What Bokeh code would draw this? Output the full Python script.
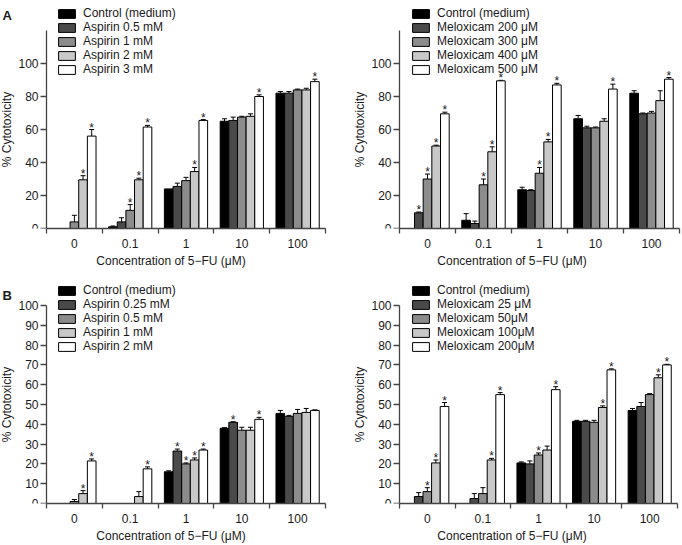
import numpy as np
from bokeh.plotting import figure
from bokeh.models import (ColumnDataSource, FixedTicker, Legend, LegendItem,
                          Whisker, TeeHead, Label, Range1d)
from bokeh.core.properties import value
from bokeh.layouts import gridplot
from bokeh.embed import file_html
from bokeh.resources import INLINE

# 5-FU concentrations (uM) on the x axis
doses = ["0", "0.1", "1", "10", "100"]

# ---- A, left: aspirin 0.5-3 mM ----
a1_labels = ["Control (medium)", "Aspirin 0.5 mM", "Aspirin 1 mM", "Aspirin 2 mM", "Aspirin 3 mM"]
a1_ctrl = [0, 1, 24, 65, 82]
a1_ctrl_err = [0, 0.5, 0, 1.5, 1]
a1_asp05 = [0, 4, 25.5, 65.5, 82]
a1_asp05_err = [0, 2.5, 2, 2, 1]
a1_asp1 = [4, 11, 29, 67.5, 84]
a1_asp1_err = [4, 3.5, 2, 0.5, 0.5]
a1_asp2 = [29.5, 29.5, 34.5, 68, 84]
a1_asp2_err = [2.5, 1, 2.5, 1.5, 1]
a1_asp3 = [56, 61.5, 65.5, 80, 89]
a1_asp3_err = [4, 1, 0.5, 1, 1.5]
a1_sig = [[0, 0, 0, 0, 0], [0, 0, 0, 0, 0], [0, 1, 0, 0, 0], [1, 1, 1, 0, 0], [1, 1, 1, 1, 1]]

# ---- A, right: meloxicam 200-500 uM ----
a2_labels = ["Control (medium)", "Meloxicam 200 μM", "Meloxicam 300 μM", "Meloxicam 400 μM", "Meloxicam 500 μM"]
a2_ctrl = [0, 5, 23.5, 66.5, 82]
a2_ctrl_err = [0, 4, 1.5, 2, 1.5]
a2_mel200 = [9.5, 3, 23, 61, 69.5]
a2_mel200_err = [0.5, 1.5, 0.5, 1, 0.5]
a2_mel300 = [30, 26.5, 33.5, 61, 70]
a2_mel300_err = [3, 3.5, 3.5, 0.5, 1]
a2_mel400 = [50, 46.5, 52.5, 65, 77.5]
a2_mel400_err = [0.5, 3, 1.5, 1.5, 6]
a2_mel500 = [69.5, 89.5, 87, 84.5, 90.5]
a2_mel500_err = [1, 0.3, 1, 3, 1]
a2_sig = [[0, 0, 0, 0, 0], [1, 0, 0, 0, 0], [1, 1, 1, 0, 0], [1, 1, 1, 0, 0], [1, 1, 1, 1, 1]]

# ---- B, left: aspirin 0.25-2 mM ----
b1_labels = ["Control (medium)", "Aspirin 0.25 mM", "Aspirin 0.5 mM", "Aspirin 1 mM", "Aspirin 2 mM"]
b1_ctrl = [0, 0, 16, 38, 45.5]
b1_ctrl_err = [0, 0, 0.5, 0.3, 1.5]
b1_asp025 = [0, 0, 26.5, 41, 44]
b1_asp025_err = [0, 0, 1, 0.3, 0.5]
b1_asp05 = [1, 0, 20, 37, 45.5]
b1_asp05_err = [1, 0, 0.5, 1.5, 2]
b1_asp1 = [5, 3.5, 22, 37, 46]
b1_asp1_err = [1.5, 2.5, 1, 1.5, 2]
b1_asp2 = [21.5, 17.5, 27, 42.5, 47]
b1_asp2_err = [1, 1, 0.5, 1, 0.3]
b1_sig = [[0, 0, 0, 0, 0], [0, 0, 1, 1, 0], [0, 0, 1, 0, 0], [1, 0, 1, 0, 0], [1, 1, 1, 1, 0]]

# ---- B, right: meloxicam 25-200 uM ----
b2_labels = ["Control (medium)", "Meloxicam 25 μM", "Meloxicam 50μM", "Meloxicam 100μM", "Meloxicam 200μM"]
b2_ctrl = [0, 0, 20.5, 41.5, 47]
b2_ctrl_err = [0, 0, 0.5, 0.5, 1]
b2_mel25 = [3.5, 2.5, 20, 41.5, 49]
b2_mel25_err = [2, 2.5, 1.5, 0.5, 2]
b2_mel50 = [6, 5, 24.5, 41, 55]
b2_mel50_err = [2, 3, 1, 1, 0.5]
b2_mel100 = [20.5, 22, 27, 48.5, 63.5]
b2_mel100_err = [1.5, 0.8, 2, 0.8, 1.5]
b2_mel200 = [49, 55, 57.5, 67.5, 70]
b2_mel200_err = [2, 1, 1.5, 0.5, 0.3]
b2_sig = [[0, 0, 0, 0, 0], [0, 0, 0, 0, 0], [1, 0, 1, 0, 0], [1, 1, 0, 1, 1], [1, 1, 1, 1, 1]]

FILLS = ["#000000", "#4a4a4a", "#8c8c8c", "#c8c8c8", "#ffffff"]
FONT = "Liberation Sans"
TEXT = "#1a1a1a"
AXIS = "#444444"
BAR_W = 0.155
W = 341
AXIS_H = 42  # room under each plot for dose labels and the x title


def panel(labels, means, errs, sig, y_top, y_ticks, height, px_per_unit,
          ax_left, ax_right, legend_loc, letter=None, letter_y=15):
    # the frame fills the whole cell; the axes are bounded to the data area
    frame_h = height - AXIS_H
    sx = (ax_right - ax_left) / 5.0
    x0 = 0.5 - ax_left / sx
    x1 = 5.5 + (W - ax_right) / sx
    p = figure(width=W, height=height, output_backend="svg", toolbar_location=None,
               x_range=Range1d(x0, x1), y_range=Range1d(0, frame_h / px_per_unit),
               min_border=0, min_border_left=0, min_border_right=0,
               min_border_top=0, min_border_bottom=AXIS_H)
    p.outline_line_color = None
    p.xgrid.grid_line_color = None
    p.ygrid.grid_line_color = None
    p.background_fill_color = "white"
    p.border_fill_color = "white"

    items = []
    for k in range(5):
        xs = [g + 1 + (k - 2) * BAR_W for g in range(5)]
        hi = [m + e for m, e in zip(means[k], errs[k])]
        src = ColumnDataSource(dict(x=xs, top=means[k], hi=hi))
        r = p.vbar(x="x", top="top", bottom=0, width=BAR_W, source=src,
                   fill_color=FILLS[k], line_color="black", line_width=1)
        items.append(LegendItem(label=labels[k], renderers=[r]))

        keep = [i for i in range(5) if errs[k][i] > 0]
        wsrc = ColumnDataSource(dict(x=[xs[i] for i in keep],
                                     lo=[means[k][i] for i in keep],
                                     hi=[hi[i] for i in keep]))
        p.add_layout(Whisker(source=wsrc, base="x", lower="lo", upper="hi",
                             dimension="height", line_color="black", line_width=1,
                             lower_head=None,
                             upper_head=TeeHead(size=5, line_color="black", line_width=1)))

        stx = [xs[i] for i in range(5) if sig[k][i]]
        sty = [hi[i] for i in range(5) if sig[k][i]]
        if stx:
            p.text(x=stx, y=sty, text=["*"] * len(stx), text_align="center",
                   text_baseline="alphabetic", y_offset=-2,
                   text_font=value(FONT), text_font_size="12px", text_color=TEXT)

    # x axis: labels under each dose group, short ticks at group boundaries
    xa = p.xaxis[0]
    xa.bounds = (0.5, 5.5)
    xa.ticker = FixedTicker(ticks=[1, 2, 3, 4, 5], minor_ticks=[0.5, 1.5, 2.5, 3.5, 4.5, 5.5])
    xa.major_label_overrides = {i + 1: d for i, d in enumerate(doses)}
    xa.major_tick_out = 0
    xa.major_tick_in = 0
    xa.minor_tick_out = 5
    xa.minor_tick_in = 0
    xa.minor_tick_line_color = AXIS
    xa.minor_tick_line_width = 1.3
    xa.major_label_standoff = 5
    xa.axis_label = "Concentration of 5\u2212FU (μM)"
    xa.axis_label_standoff = 3

    ya = p.yaxis[0]
    ya.fixed_location = 0.5
    ya.bounds = (0, y_top)
    ya.ticker = FixedTicker(ticks=y_ticks, minor_ticks=[])
    ya.major_tick_out = 6
    ya.major_tick_in = 0
    ya.major_label_standoff = 2
    ya.axis_label = "% Cytotoxicity"
    ya.axis_label_standoff = 1

    for ax in (xa, ya):
        ax.axis_line_color = AXIS
        ax.axis_line_width = 1.3
        ax.major_tick_line_color = AXIS
        ax.major_tick_line_width = 1.3
        ax.major_label_text_font = FONT
        ax.major_label_text_font_size = "12px"
        ax.major_label_text_color = TEXT
        ax.axis_label_text_font = FONT
        ax.axis_label_text_font_size = "12px"
        ax.axis_label_text_font_style = "normal"
        ax.axis_label_text_color = TEXT

    legend = Legend(items=items, location=legend_loc, orientation="vertical",
                    glyph_width=21, glyph_height=11, label_height=10,
                    label_standoff=6, spacing=-2, padding=0, margin=0,
                    border_line_color=None, background_fill_alpha=0,
                    label_text_font=FONT, label_text_font_size="12px",
                    label_text_line_height=1.0,
                    label_text_color=TEXT)
    p.add_layout(legend)

    if letter:
        p.add_layout(Label(x=2, y=frame_h - letter_y,
                           x_units="screen", y_units="screen", text=letter,
                           text_font=FONT, text_font_size="13px",
                           text_font_style="bold", text_color=TEXT,
                           text_align="left", text_baseline="middle"))
    return p


p1 = panel(a1_labels,
           [a1_ctrl, a1_asp05, a1_asp1, a1_asp2, a1_asp3],
           [a1_ctrl_err, a1_asp05_err, a1_asp1_err, a1_asp2_err, a1_asp3_err],
           a1_sig, 120, [0, 20, 40, 60, 80, 100], 270, 1.65, 46, 325, (56, 152), "A", 15)
p2 = panel(a2_labels,
           [a2_ctrl, a2_mel200, a2_mel300, a2_mel400, a2_mel500],
           [a2_ctrl_err, a2_mel200_err, a2_mel300_err, a2_mel400_err, a2_mel500_err],
           a2_sig, 120, [0, 20, 40, 60, 80, 100], 270, 1.65, 58, 338, (69, 152))
p3 = panel(b1_labels,
           [b1_ctrl, b1_asp025, b1_asp05, b1_asp1, b1_asp2],
           [b1_ctrl_err, b1_asp025_err, b1_asp05_err, b1_asp1_err, b1_asp2_err],
           b1_sig, 100, list(range(0, 101, 10)), 275, 1.98, 46, 325, (56, 150), "B", 25)
p4 = panel(b2_labels,
           [b2_ctrl, b2_mel25, b2_mel50, b2_mel100, b2_mel200],
           [b2_ctrl_err, b2_mel25_err, b2_mel50_err, b2_mel100_err, b2_mel200_err],
           b2_sig, 100, list(range(0, 101, 10)), 275, 1.98, 58, 336, (69, 150))

grid = gridplot([[p1, p2], [p3, p4]], toolbar_location=None)

with open("out.html", "w") as f:
    f.write(file_html(grid, INLINE))
